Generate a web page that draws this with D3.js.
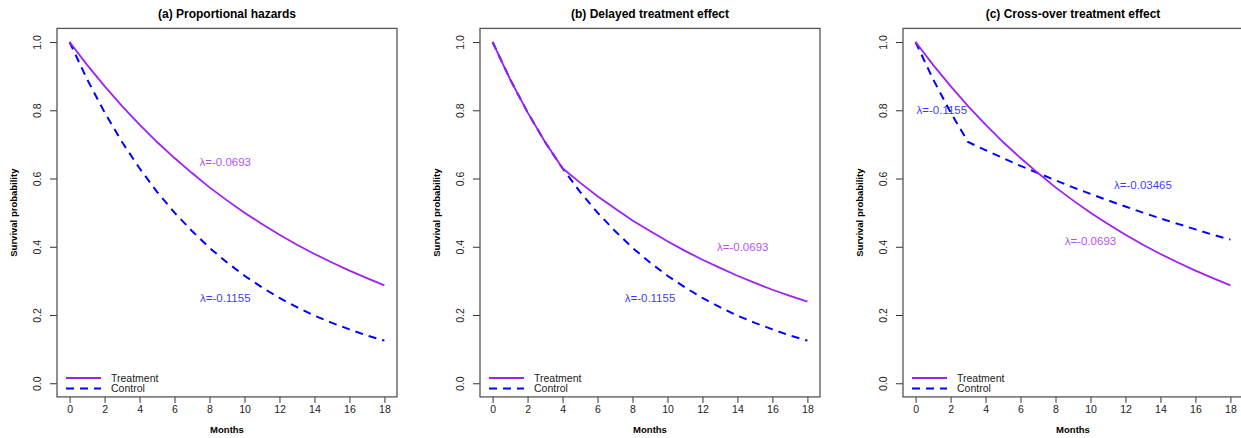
<!DOCTYPE html>
<html>
<head>
<meta charset="utf-8">
<script src="https://cdn.jsdelivr.net/npm/d3@7"></script>
<style>
  body { margin: 0; background: #fff; }
  text { font-family: "Liberation Sans", Arial, sans-serif; }
</style>
</head>
<body>
<div id="chart"></div>
<script>
// months and survival values
let months = [0,1,2,3,4,5,6,7,8,9,10,11,12,13,14,15,16,17,18];

let phTreat = [1.000,0.933,0.871,0.812,0.758,0.707,0.660,0.616,0.574,0.536,0.500,0.467,0.435,0.406,0.379,0.354,0.330,0.308,0.287];
let phControl = [1.000,0.891,0.794,0.707,0.630,0.561,0.500,0.446,0.397,0.354,0.315,0.281,0.250,0.223,0.198,0.177,0.158,0.140,0.125];

let delayTreat = [1.000,0.891,0.794,0.707,0.630,0.588,0.548,0.512,0.477,0.446,0.416,0.388,0.362,0.338,0.315,0.294,0.274,0.256,0.239];
let delayControl = phControl;

let crossTreat = phTreat;
let crossControl = [1.000,0.891,0.794,0.707,0.683,0.660,0.637,0.616,0.595,0.574,0.555,0.536,0.518,0.500,0.483,0.467,0.451,0.435,0.421];

let xTicks = [0,2,4,6,8,10,12,14,16,18];
let yTicks = [0,0.2,0.4,0.6,0.8,1.0];

let panels = [
    {title: "(a) Proportional hazards", treat: phTreat, control: phControl,
     labels: [{x: 8.9, y: 0.648, text: "λ=-0.0693", col: "#a020f0"},
              {x: 8.9, y: 0.249, text: "λ=-0.1155", col: "#0000ff"}]},
    {title: "(b) Delayed treatment effect", treat: delayTreat, control: delayControl,
     labels: [{x: 14.3, y: 0.399, text: "λ=-0.0693", col: "#a020f0"},
              {x: 9, y: 0.25, text: "λ=-0.1155", col: "#0000ff"}]},
    {title: "(c) Cross-over treatment effect", treat: crossTreat, control: crossControl,
     labels: [{x: 1.5, y: 0.80, text: "λ=-0.1155", col: "#0000ff"},
              {x: 13.0, y: 0.58, text: "λ=-0.03465", col: "#0000ff"},
              {x: 10.0, y: 0.416, text: "λ=-0.0693", col: "#a020f0"}]}
];

let W = 1241, H = 438;
let boxW = 340, boxH = 368.5;
let purple = "#a020f0", blue = "#0000ff";

let svg = d3.select("#chart").append("svg")
    .attr("width", W).attr("height", H);

panels.forEach((p, k) => {
    let left = 57 + k * 423, top = 28.4;
    let g = svg.append("g").attr("transform", "translate(" + left + "," + top + ")");

    // R style 4% padding
    let x = d3.scaleLinear().domain([-0.72, 18.72]).range([0, boxW]);
    let y = d3.scaleLinear().domain([-0.04, 1.04]).range([boxH, 0]);

    // x axis
    let xa = g.append("g").attr("transform", "translate(0," + boxH + ")")
        .call(d3.axisBottom(x).tickValues(xTicks).tickSize(6).tickPadding(3).tickFormat(d3.format("d")));
    xa.select(".domain").remove();
    xa.selectAll("line").attr("stroke", "#333");
    xa.selectAll("text").attr("font-size", 10.5).attr("fill", "#222")
        .style("font-family", "Liberation Sans, Arial, sans-serif");

    // y axis, rotated labels
    let ya = g.append("g")
        .call(d3.axisLeft(y).tickValues(yTicks).tickSize(7).tickFormat(d3.format(".1f")));
    ya.select(".domain").remove();
    ya.selectAll("line").attr("stroke", "#333");
    ya.selectAll("text")
        .attr("font-size", 10.5).attr("fill", "#222")
        .attr("x", null).attr("dy", null)
        .attr("text-anchor", "middle")
        .attr("transform", "translate(-16,0) rotate(-90)")
        .style("font-family", "Liberation Sans, Arial, sans-serif");

    // box
    g.append("rect").attr("width", boxW).attr("height", boxH)
        .attr("fill", "none").attr("stroke", "#555").attr("stroke-width", 1.3);

    let line = d3.line()
        .x((d, i) => x(months[i]))
        .y(d => y(d));

    g.append("path").datum(p.control)
        .attr("d", line).attr("fill", "none")
        .attr("stroke", blue).attr("stroke-width", 2)
        .attr("stroke-dasharray", "8,6");
    g.append("path").datum(p.treat)
        .attr("d", line).attr("fill", "none")
        .attr("stroke", purple).attr("stroke-width", 1.8);

    g.selectAll(".lab").data(p.labels).enter().append("text")
        .attr("x", d => x(d.x)).attr("y", d => y(d.y))
        .attr("dy", "0.35em").attr("text-anchor", "middle")
        .attr("font-size", 11.5).attr("fill", d => d.col).attr("fill-opacity", 0.8)
        .text(d => d.text);

    // legend
    let leg = [{name: "Treatment", col: purple, dash: null},
               {name: "Control", col: blue, dash: "8,6"}];
    leg.forEach((l, j) => {
        let ly = 349.5 + j * 10.5;
        g.append("line").attr("x1", 9).attr("x2", 44).attr("y1", ly).attr("y2", ly)
            .attr("stroke", l.col).attr("stroke-width", 2)
            .attr("stroke-dasharray", l.dash);
        g.append("text").attr("x", 54).attr("y", ly).attr("dy", "0.35em")
            .attr("font-size", 10.5).attr("fill", "#222").text(l.name);
    });

    // titles
    g.append("text").attr("x", boxW / 2).attr("y", -10)
        .attr("text-anchor", "middle").attr("font-size", 12).attr("font-weight", "bold")
        .text(p.title);
    g.append("text").attr("x", boxW / 2).attr("y", boxH + 36)
        .attr("text-anchor", "middle").attr("font-size", 9.5).attr("font-weight", "bold")
        .text("Months");
    g.append("text")
        .attr("transform", "translate(-40," + (boxH / 2) + ") rotate(-90)")
        .attr("text-anchor", "middle").attr("font-size", 9.5).attr("font-weight", "bold")
        .text("Survival probability");
});
</script>
</body>
</html>
